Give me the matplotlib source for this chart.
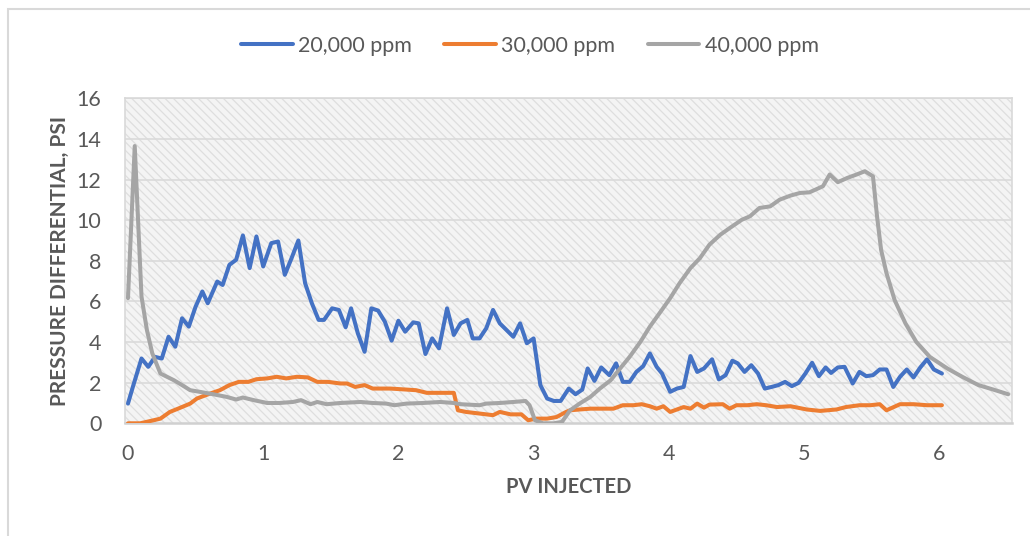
import matplotlib
matplotlib.use("Agg")
import matplotlib.pyplot as plt
from matplotlib.patches import Rectangle

# --- data ------------------------------------------------------------------
blue_pv = [0.00, 0.04, 0.10, 0.15, 0.20, 0.25, 0.30, 0.35, 0.40, 0.45, 0.50, 0.55,
           0.59, 0.66, 0.70, 0.75, 0.80, 0.85, 0.90, 0.95, 1.00, 1.06, 1.11, 1.16,
           1.21, 1.26, 1.31, 1.36, 1.41, 1.45, 1.51, 1.56, 1.61, 1.65, 1.70, 1.75,
           1.80, 1.85, 1.90, 1.95, 2.00, 2.05, 2.11, 2.15, 2.20, 2.25, 2.30, 2.36,
           2.41, 2.46, 2.51, 2.55, 2.60, 2.65, 2.70, 2.75, 2.80, 2.85, 2.90, 2.95,
           3.00, 3.05, 3.10, 3.15, 3.20, 3.26, 3.31, 3.36, 3.40, 3.45, 3.50, 3.56,
           3.61, 3.66, 3.71, 3.76, 3.81, 3.86, 3.91, 3.95, 4.01, 4.06, 4.11, 4.16,
           4.21, 4.26, 4.32, 4.37, 4.42, 4.47, 4.51, 4.56, 4.61, 4.66, 4.71, 4.76,
           4.81, 4.86, 4.91, 4.96, 5.01, 5.06, 5.11, 5.16, 5.20, 5.25, 5.30, 5.36,
           5.41, 5.46, 5.51, 5.56, 5.61, 5.66, 5.71, 5.76, 5.81, 5.86, 5.91, 5.96,
           6.02]
blue_psi = [0.97, 1.88, 3.19, 2.78, 3.27, 3.19, 4.26, 3.77, 5.17, 4.76, 5.74, 6.49,
            5.91, 6.98, 6.81, 7.80, 8.05, 9.25, 7.64, 9.20, 7.72, 8.87, 8.95, 7.31,
            8.13, 9.00, 6.90, 5.91, 5.09, 5.09, 5.66, 5.58, 4.73, 5.66, 4.43, 3.52,
            5.66, 5.55, 5.00, 4.07, 5.05, 4.51, 4.97, 4.92, 3.41, 4.18, 3.69, 5.66,
            4.35, 4.92, 5.09, 4.18, 4.18, 4.68, 5.58, 4.92, 4.59, 4.26, 4.92, 3.94,
            4.18, 1.88, 1.22, 1.10, 1.10, 1.71, 1.43, 1.66, 2.70, 2.09, 2.75, 2.37,
            2.95, 2.04, 2.04, 2.53, 2.81, 3.44, 2.78, 2.45, 1.55, 1.71, 1.79, 3.31,
            2.53, 2.70, 3.15, 2.16, 2.37, 3.08, 2.95, 2.53, 2.86, 2.45, 1.71, 1.79,
            1.88, 2.04, 1.83, 1.99, 2.45, 2.98, 2.32, 2.75, 2.48, 2.75, 2.78, 1.96,
            2.53, 2.32, 2.37, 2.65, 2.65, 1.79, 2.29, 2.65, 2.26, 2.75, 3.15, 2.65,
            2.45]

orange_pv = [0.00, 0.09, 0.19, 0.24, 0.31, 0.37, 0.46, 0.51, 0.61, 0.68, 0.75, 0.82,
             0.89, 0.95, 1.03, 1.10, 1.17, 1.25, 1.33, 1.40, 1.48, 1.57, 1.62, 1.68,
             1.75, 1.81, 1.94, 2.06, 2.13, 2.21, 2.41, 2.44, 2.50, 2.60, 2.70, 2.75,
             2.83, 2.91, 2.96, 3.02, 3.10, 3.17, 3.24, 3.27, 3.34, 3.42, 3.52, 3.59,
             3.66, 3.74, 3.80, 3.86, 3.91, 3.96, 4.01, 4.06, 4.11, 4.16, 4.21, 4.26,
             4.30, 4.40, 4.45, 4.50, 4.58, 4.65, 4.72, 4.80, 4.90, 5.02, 5.12, 5.24,
             5.31, 5.41, 5.49, 5.56, 5.61, 5.71, 5.81, 5.91, 6.02]
orange_psi = [0.00, 0.00, 0.15, 0.23, 0.56, 0.72, 0.97, 1.22, 1.47, 1.63, 1.88, 2.04,
              2.04, 2.17, 2.21, 2.29, 2.21, 2.29, 2.26, 2.04, 2.04, 1.96, 1.96, 1.79,
              1.88, 1.71, 1.71, 1.66, 1.63, 1.50, 1.50, 0.64, 0.56, 0.48, 0.40, 0.56,
              0.44, 0.44, 0.15, 0.23, 0.23, 0.31, 0.56, 0.64, 0.68, 0.72, 0.72, 0.72,
              0.89, 0.89, 0.94, 0.84, 0.72, 0.84, 0.56, 0.68, 0.80, 0.72, 0.97, 0.77,
              0.92, 0.94, 0.72, 0.89, 0.89, 0.94, 0.89, 0.80, 0.84, 0.68, 0.61, 0.68,
              0.80, 0.89, 0.89, 0.94, 0.64, 0.94, 0.94, 0.89, 0.89]

gray_pv = [0.00, 0.05, 0.10, 0.14, 0.18, 0.24, 0.34, 0.40, 0.46, 0.53, 0.63, 0.73,
           0.80, 0.85, 0.93, 1.03, 1.12, 1.22, 1.28, 1.35, 1.40, 1.47, 1.57, 1.72,
           1.81, 1.91, 1.97, 2.06, 2.18, 2.31, 2.41, 2.46, 2.60, 2.65, 2.75, 2.85,
           2.94, 2.97, 3.01, 3.07, 3.15, 3.21, 3.27, 3.34, 3.42, 3.49, 3.57, 3.64,
           3.71, 3.79, 3.86, 3.94, 4.01, 4.08, 4.16, 4.23, 4.30, 4.38, 4.45, 4.54,
           4.60, 4.67, 4.75, 4.82, 4.90, 4.97, 5.04, 5.14, 5.19, 5.25, 5.32, 5.39,
           5.45, 5.51, 5.54, 5.57, 5.61, 5.67, 5.75, 5.83, 5.93, 6.06, 6.17, 6.29,
           6.40, 6.51]
gray_psi = [6.16, 13.65, 6.24, 4.59, 3.44, 2.45, 2.12, 1.88, 1.63, 1.55, 1.43, 1.30,
            1.17, 1.27, 1.14, 1.00, 1.00, 1.05, 1.14, 0.94, 1.05, 0.94, 1.00, 1.05,
            1.00, 0.97, 0.89, 0.97, 1.00, 1.05, 1.00, 0.94, 0.89, 0.97, 1.00, 1.05,
            1.10, 0.89, 0.15, 0.00, 0.00, 0.07, 0.64, 0.97, 1.30, 1.71, 2.12, 2.70,
            3.27, 4.01, 4.76, 5.50, 6.16, 6.90, 7.64, 8.13, 8.79, 9.28, 9.61, 10.02,
            10.19, 10.60, 10.68, 11.01, 11.21, 11.34, 11.37, 11.67, 12.25, 11.87, 12.08, 12.25,
            12.41, 12.16, 10.19, 8.54, 7.39, 6.07, 4.92, 4.01, 3.27, 2.70, 2.29, 1.88,
            1.66, 1.43]

series_labels = ["20,000 ppm", "30,000 ppm", "40,000 ppm"]
y_ticks = [0, 2, 4, 6, 8, 10, 12, 14, 16]
x_ticks = [0, 1, 2, 3, 4, 5, 6]

TXT = "#595959"
plt.rcParams["font.family"] = ["Lato", "DejaVu Sans"]
plt.rcParams["hatch.linewidth"] = 0.9

fig = plt.figure(figsize=(10.30, 5.36), dpi=100)
ax = fig.add_axes([125 / 1030, 112.7 / 536, 886.7 / 1030, 325 / 536])

# hatched plot-area fill (Excel pattern fill look-alike)
ax.add_patch(Rectangle((0, 0), 1, 1, transform=ax.transAxes, facecolor="#f4f4f4",
                       edgecolor="#dedede", lw=0, hatch="\\\\\\\\", zorder=0))
for y in y_ticks[1:]:
    ax.axhline(y, color="#dadada", lw=1.2, zorder=1)

ax.plot(blue_pv, blue_psi, color="#4472C4", lw=2.9, label=series_labels[0],
        solid_joinstyle="round", solid_capstyle="round", zorder=3)
ax.plot(orange_pv, orange_psi, color="#ED7D31", lw=2.9, label=series_labels[1],
        solid_joinstyle="round", solid_capstyle="round", zorder=3)
ax.plot(gray_pv, gray_psi, color="#A5A5A5", lw=2.9, label=series_labels[2],
        solid_joinstyle="round", solid_capstyle="round", zorder=3)

ax.set_xlim(-0.022, 6.536)
ax.set_ylim(0, 16)
ax.set_xticks(x_ticks)
ax.set_yticks(y_ticks)
ax.tick_params(length=0, labelsize=15.5, labelcolor=TXT)
ax.tick_params(axis="x", pad=15)
ax.tick_params(axis="y", pad=17)
for s in ax.spines.values():
    s.set_color("#d9d9d9")
    s.set_linewidth(1.2)
ax.spines["bottom"].set_color("#d0d0d0")
ax.spines["bottom"].set_linewidth(1.8)

ax.set_xlabel("PV INJECTED", fontsize=14.5, fontweight="bold", color=TXT, labelpad=9)
ax.set_ylabel("PRESSURE DIFFERENTIAL, PSI", fontsize=15, fontweight="bold",
              color=TXT, labelpad=5)

fig.legend(loc="center", bbox_to_anchor=(530 / 1030, 1 - 46 / 536), ncol=3,
           frameon=False, fontsize=15.5, handlelength=2.4, handletextpad=0.25,
           columnspacing=1.5, labelcolor=TXT)

# chart outer border
fig.add_artist(Rectangle((7.5 / 1030, -0.1), 1.2, 1 - 8.7 / 536 + 0.1,
                         transform=fig.transFigure, fill=False,
                         edgecolor="#d9d9d9", lw=1.5))

fig.savefig("out.png", dpi=100, facecolor="white")
